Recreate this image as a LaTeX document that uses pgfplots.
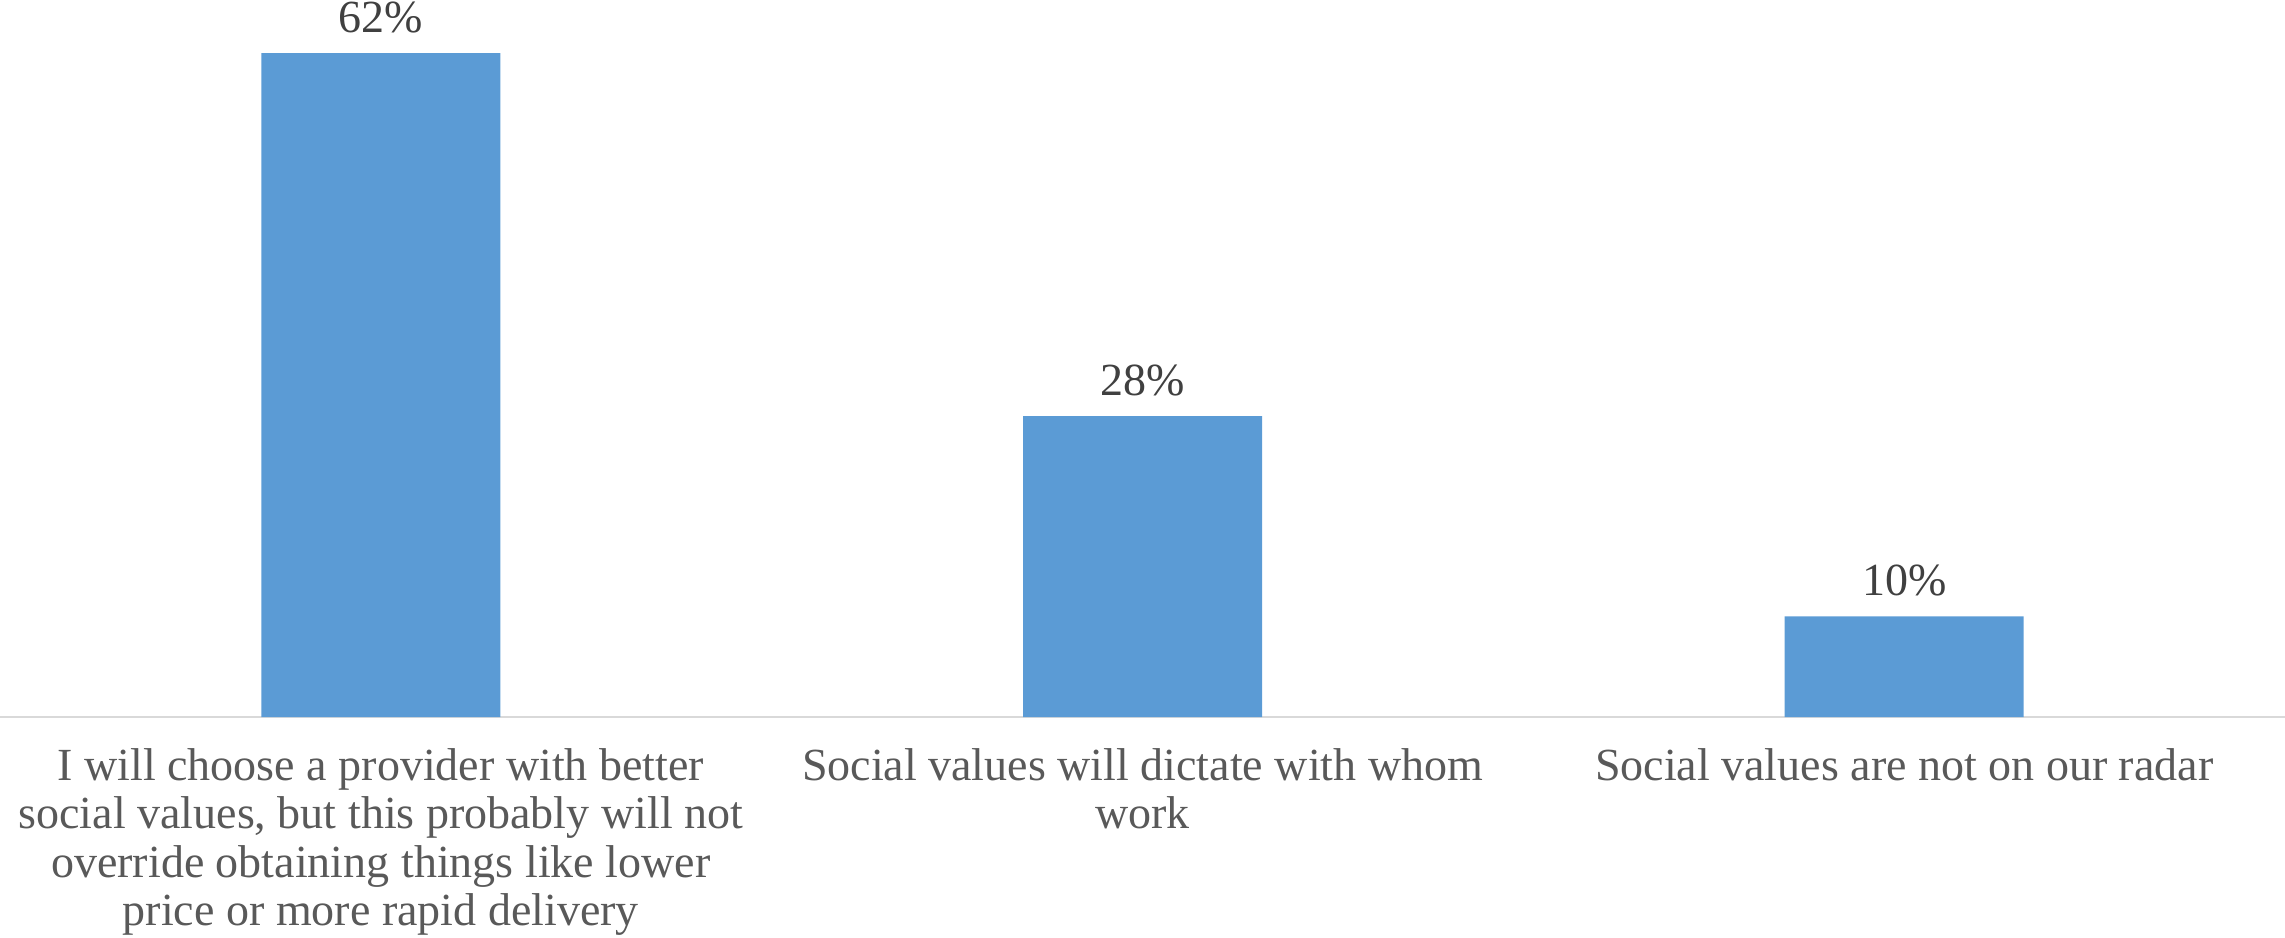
\documentclass[border=0pt]{standalone}
\usepackage{pgfplots}
\pgfplotsset{compat=1.18}
\usepackage{fontspec}
\setmainfont{Liberation Serif}
\definecolor{barblue}{HTML}{5B9BD5}
\definecolor{axisgray}{HTML}{D9D9D9}
\definecolor{datagray}{HTML}{404040}
\definecolor{labelgray}{HTML}{595959}
\begin{document}
\begin{tikzpicture}
\begin{axis}[
  scale only axis, width=2285pt, height=717pt,
  xmin=-0.5, xmax=2.5, ymin=0, ymax=66.95,
  hide y axis,
  axis x line*=bottom,
  x axis line style={draw=axisgray, line width=2.5pt},
  xtick={0,1,2},
  xticklabels={{I will choose a provider with better\\social values, but this probably will not\\override obtaining things like lower\\price or more rapid delivery},
               {Social values will dictate with whom\\work},
               {Social values are not on our radar}},
  xtick style={draw=none}, major tick length=0pt,
  xticklabel style={font=\fontsize{46}{48.5}\selectfont, text=labelgray, align=center, anchor=north, inner sep=0pt, yshift=-31pt},
  ybar, bar width=239pt,
  point meta=explicit symbolic,
  nodes near coords={\pgfplotspointmeta\%},
  nodes near coords style={font=\fontsize{46}{50}\selectfont, text=datagray, anchor=base, inner sep=0pt, yshift=21pt},
  clip=false,
]
\addplot[fill=barblue, draw=none] table[x=x, y=y, meta=lab] {
x y lab
0 62 62
1 28.1 28
2 9.4 10
};
\end{axis}
\pgfresetboundingbox
\path ([yshift=-220pt]current axis.south west) rectangle (current axis.north east);
\end{tikzpicture}
\end{document}
